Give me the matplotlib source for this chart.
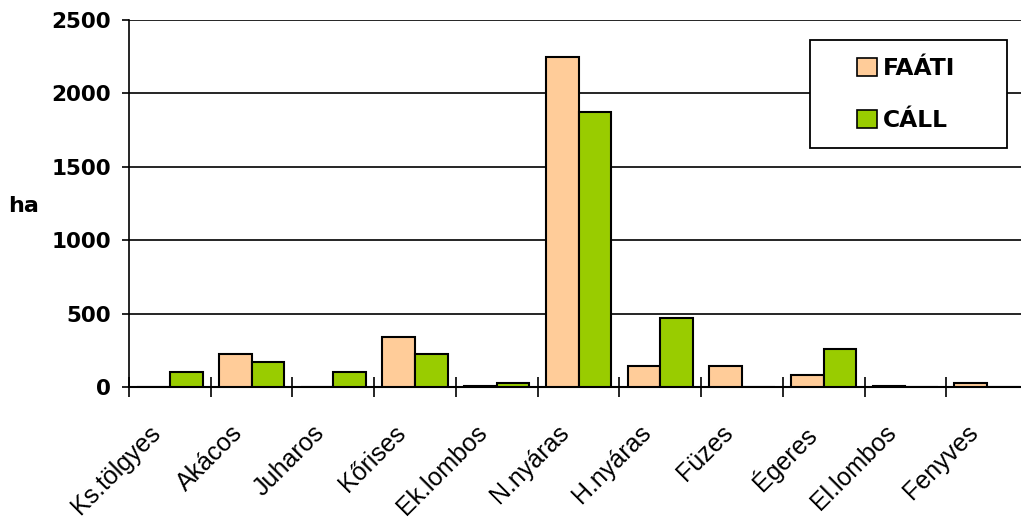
import matplotlib
matplotlib.use("Agg")
import matplotlib.pyplot as plt
import numpy as np
from matplotlib.patches import Patch, Rectangle

categories = ["Ks.tölgyes", "Akácos", "Juharos", "Kőrises", "Ek.lombos", "N.nyáras",
              "H.nyáras", "Füzes", "Égeres", "El.lombos", "Fenyves"]
faati = [0, 227, 0, 341, 10, 2248, 143, 143, 84, 8, 27]
call = [102, 170, 102, 227, 27, 1873, 473, 0, 257, 0, 0]
yticks = [0, 500, 1000, 1500, 2000, 2500]

plt.rcParams['font.family'] = ['DejaVu Sans']

fig = plt.figure(figsize=(10.21, 5.21), dpi=100)
W, H = 1021, 521
x0, x1 = 129, 1028
y0, y1 = 387, 20
ax = fig.add_axes([x0 / W, 1 - y0 / H, (x1 - x0) / W, (y0 - y1) / H])

n = len(categories)
x = np.arange(n)
bw = 0.4
ax.bar(x - bw / 2, faati, width=bw, color="#FFCC99", edgecolor="black", linewidth=1.5, zorder=3)
ax.bar(x + bw / 2, call, width=bw, color="#99CC00", edgecolor="black", linewidth=1.5, zorder=3)

ax.set_xlim(-0.5, n - 0.5)
ax.set_ylim(0, 2500)
ax.set_yticks(yticks)
ax.set_yticklabels([str(v) for v in yticks], fontsize=15.5, fontweight='bold')
ax.yaxis.grid(True, color="black", linewidth=1.2, zorder=0)
ax.set_axisbelow(True)

ax.set_xticks(np.arange(n + 1) - 0.5)
ax.set_xticklabels([])
ax.tick_params(axis='x', which='major', direction='inout', length=14, width=1.2)
ax.tick_params(axis='y', direction='out', length=5, width=1.2, pad=8)

for i, c in enumerate(categories):
    ax.annotate(c, xy=(i, 0), xycoords='data', xytext=(-15.5, -24), textcoords='offset points',
                rotation=45, ha='right', va='top', rotation_mode='anchor', fontsize=18,
                family=['Liberation Sans', 'DejaVu Sans'])

for s in ['top', 'right']:
    ax.spines[s].set_visible(False)
ax.spines['left'].set_linewidth(1.2)
ax.spines['bottom'].set_linewidth(1.5)

fig.text(24 / W, 1 - 206 / H, "ha", fontsize=16, fontweight='bold', ha='center', va='center')

# legend frame
fig.patches.append(Rectangle((810 / W, 1 - 148 / H), (1007 - 810) / W, (148 - 40) / H,
                             transform=fig.transFigure, facecolor='white', edgecolor='black',
                             linewidth=1.3, zorder=5))
handles = [Patch(facecolor="#FFCC99", edgecolor="black", linewidth=1.2, label="FAÁTI"),
           Patch(facecolor="#99CC00", edgecolor="black", linewidth=1.2, label="CÁLL")]
leg = fig.legend(handles=handles, loc='upper left', bbox_to_anchor=(857 / W, 1 - 57 / H),
                 frameon=False, prop={'size': 16.8, 'weight': 'bold'},
                 handlelength=0.85, handleheight=0.85, handletextpad=0.25,
                 labelspacing=1.25, borderpad=0, borderaxespad=0)
leg.set_zorder(6)

fig.savefig("out.png", dpi=100)
